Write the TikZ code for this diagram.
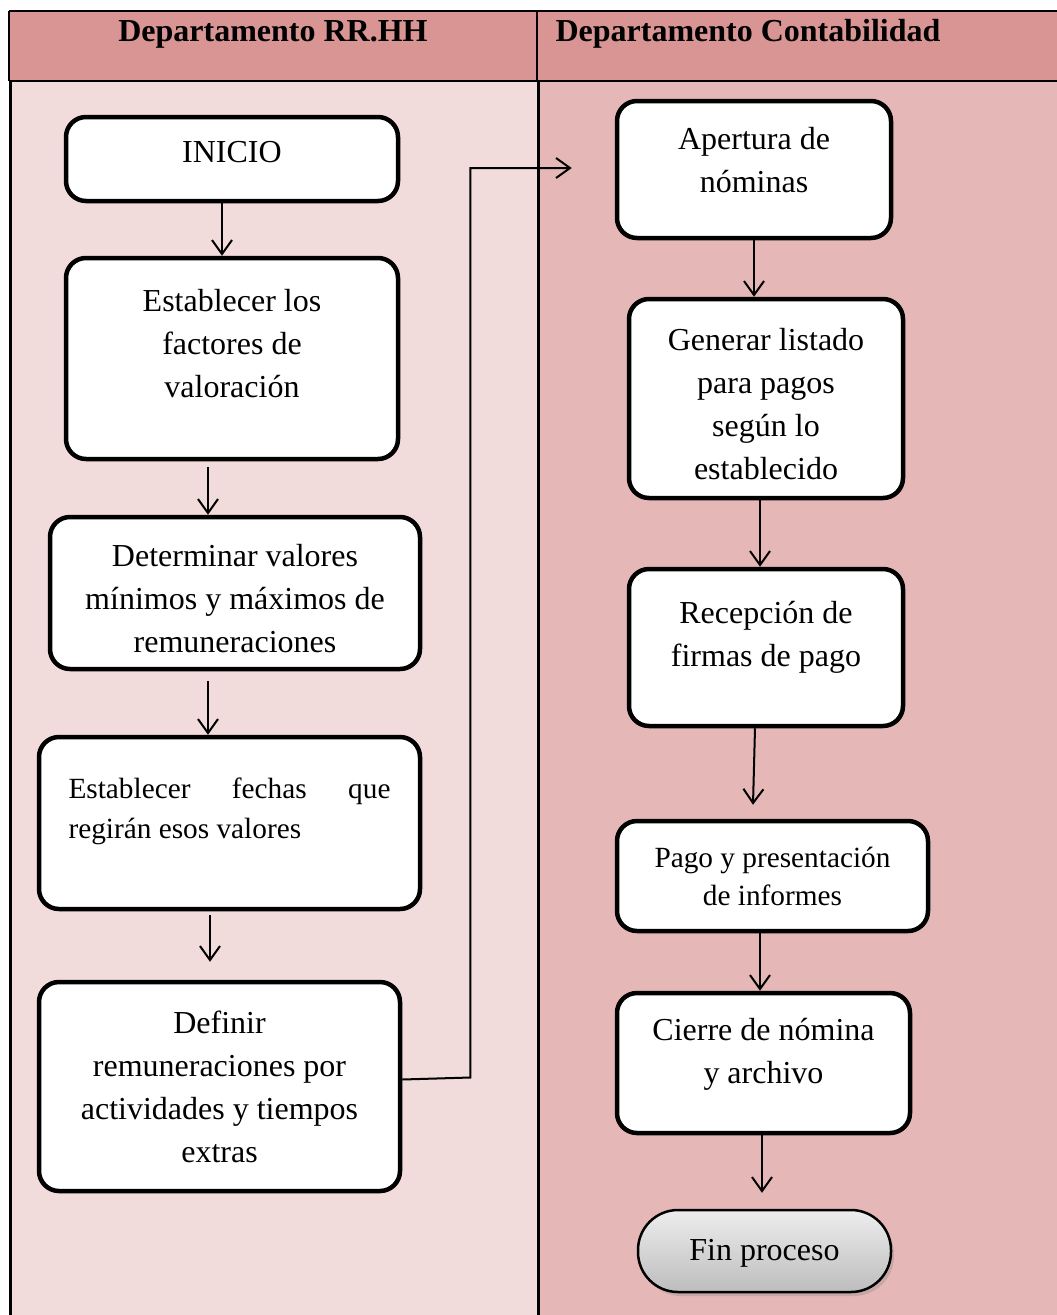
\documentclass[tikz,border=0pt]{standalone}
\usepackage{fontspec}
\setmainfont{Liberation Serif}
\usepackage{tikz}
\usetikzlibrary{arrows.meta, positioning, calc, shadows}
\usepackage{xcolor}
\definecolor{laneheader}{HTML}{D99594}
\definecolor{laneleft}{HTML}{F2DBDB}
\definecolor{laneright}{HTML}{E5B8B7}
\definecolor{endtop}{HTML}{EDEDED}
\definecolor{endbottom}{HTML}{BDBDBD}
\newcommand{\liftup}[1]{\rule[-#1]{0pt}{#1}}
\newcommand{\pushdown}[1]{\rule{0pt}{#1}}

\begin{document}
\begin{tikzpicture}[
    x=1pt, y=-1pt,
    every node/.style={font=\fontsize{32}{43}\selectfont},
    paso/.style={draw, line width=4.5pt, rounded corners=20pt, fill=white, align=center, inner sep=0pt},
    fin/.style={draw, line width=2.5pt, rounded corners=40pt, top color=endtop, bottom color=endbottom,
        drop shadow={opacity=0.3, shadow xshift=3pt, shadow yshift=-4pt}, inner sep=0pt},
    lanetitle/.style={font=\fontsize{32}{43}\selectfont\bfseries},
    arrow/.style={-{Straight Barb[length=14pt, width=20pt]}, line width=2pt}
]
    \useasboundingbox (0,0) rectangle (1057,1315);

    % swimlanes
    \fill[laneheader] (9,11) rectangle (1057,81);
    \fill[laneleft] (9,81) rectangle (537,1315);
    \fill[laneright] (537,81) rectangle (1057,1315);
    \draw[line width=1.3pt] (9,11) -- (1057,11) (9,81) -- (1057,81) (9,11) -- (9,81) (537,11) -- (537,81);
    \draw[line width=3pt] (10,81) -- (10,1315) (538,81) -- (538,1315);
    \node[lanetitle, anchor=base] (hdrRRHH) at (273,41) {Departamento RR.HH};
    \node[lanetitle, anchor=base west] (hdrConta) at (552,41) {Departamento Contabilidad};

    % RR.HH
    \node[paso, minimum width=332pt, minimum height=84pt] (inicio) at (232,159) {INICIO\liftup{14pt}};
    \node[paso, minimum width=332pt, minimum height=201pt] (factores) at (232,358.5) {Establecer los\\factores de\\valoración\liftup{30pt}};
    \node[paso, minimum width=370pt, minimum height=152pt] (valores) at (235,593) {\pushdown{33pt}Determinar valores\\mínimos y máximos de\\remuneraciones};
    \node[paso, minimum width=381pt, minimum height=172pt, text width=322pt, align=justify,
        font=\fontsize{29.3}{40}\selectfont] (fechas) at (229.5,823) {Establecer fechas que\linebreak regirán esos valores\liftup{30pt}};
    \node[paso, minimum width=361pt, minimum height=209pt] (definir) at (219.5,1086.5) {Definir\\remuneraciones por\\actividades y tiempos\\extras};

    % Contabilidad
    \node[paso, minimum width=274pt, minimum height=137pt] (apertura) at (754,169.5) {Apertura de\\nóminas\liftup{20pt}};
    \node[paso, minimum width=274pt, minimum height=199pt] (generar) at (766,398.5) {\pushdown{33pt}Generar listado\\para pagos\\según lo\\establecido};
    \node[paso, minimum width=274pt, minimum height=157pt] (recepcion) at (766,647.5) {Recepción de\\firmas de pago\liftup{28pt}};
    \node[paso, minimum width=311pt, minimum height=110pt, font=\fontsize{29.3}{38}\selectfont] (pago) at (772.5,876) {Pago y presentación\\de informes};
    \node[paso, minimum width=293pt, minimum height=140pt] (cierre) at (763.5,1063) {Cierre de nómina\\y archivo\liftup{24pt}};
    \node[fin, minimum width=253pt, minimum height=82pt] (final) at (764.5,1251) {\pushdown{26pt}Fin proceso};

    \draw[arrow] ([xshift=-10pt]inicio.south) -- ([xshift=-10pt]inicio.south |- factores.north);
    \draw[arrow, shorten <=6pt] ([xshift=-24pt]factores.south) -- ([xshift=-24pt]factores.south |- valores.north);
    \draw[arrow, shorten <=10pt] ([xshift=-27pt]valores.south) -- ([xshift=-27pt]valores.south |- fechas.north);
    \draw[arrow, shorten <=4pt, shorten >=18pt] ([xshift=-19.5pt]fechas.south) -- ([xshift=-19.5pt]fechas.south |- definir.north);
    \draw[arrow] ([yshift=7pt]definir.east) -- ++(68,-2) |- ([xshift=-43pt, yshift=1.5pt]apertura.west);

    \draw[arrow] (apertura.south) -- (apertura.south |- generar.north);
    \draw[arrow] ([xshift=-6pt]generar.south) -- ([xshift=-6pt]generar.south |- recepcion.north);
    \draw[arrow] ([xshift=-11pt]recepcion.south) -- ([xshift=-19.5pt, yshift=14pt]pago.north);
    \draw[arrow] ([xshift=-12.5pt]pago.south) -- ([xshift=-12.5pt]pago.south |- cierre.north);
    \draw[arrow, shorten >=16pt] ([xshift=-1.5pt]cierre.south) -- ([xshift=-1.5pt]cierre.south |- final.north);
\end{tikzpicture}
\end{document}
